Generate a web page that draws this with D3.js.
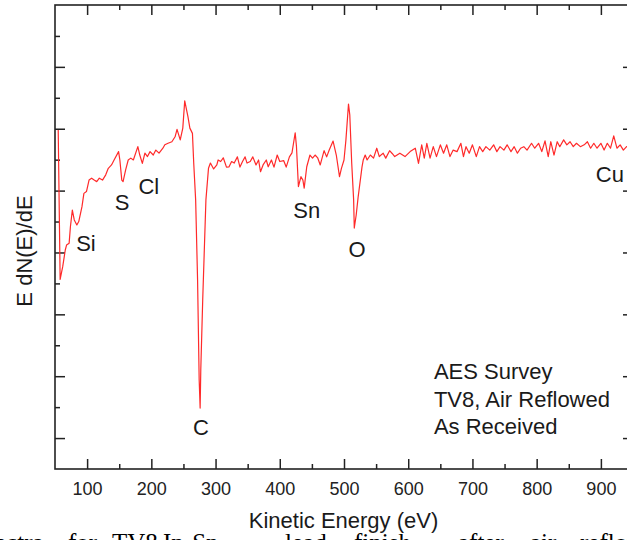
<!DOCTYPE html>
<html>
<head>
<meta charset="utf-8">
<script src="https://cdnjs.cloudflare.com/ajax/libs/d3/7.8.5/d3.min.js"></script>
<style>
  html, body { margin: 0; padding: 0; background: #fff; }
  svg { display: block; }
  .axis text { font-family: "Liberation Sans", Arial, sans-serif; font-size: 18px; fill: #222; }
  .axis line { stroke: #222; stroke-width: 1.5; }
  .axis path { display: none; }
</style>
</head>
<body>
<svg id="visualisation" width="627" height="540"></svg>
<script>

// AES survey (kinetic energy in eV, E dN(E)/dE in arbitrary units)
var energy = [55, 58, 62, 66, 68, 72, 74, 77, 80, 84, 87, 92, 95, 99, 103, 107, 111, 115, 119, 124,
  129, 133, 138, 142, 149, 151, 154, 156, 160, 164, 168, 172, 179, 182, 186, 190, 194, 198, 203, 207,
  212, 218, 221, 226, 232, 237, 240, 245, 249, 252, 257, 260, 264, 266, 269, 272, 274.5, 276, 277, 280,
  282, 285, 289, 292, 297, 302, 304, 308, 312, 317, 321, 325, 329, 334, 338, 342, 346, 349, 354, 358,
  363, 367, 370, 374, 379, 382, 387, 391, 396, 400, 406, 410, 415, 419, 424, 426, 429, 433, 436, 438,
  442, 447, 451, 455, 459, 463, 469, 473, 477, 483, 488, 493, 496, 500, 503, 507, 509, 512, 515, 516,
  519, 522, 528, 530, 533, 536, 541, 546, 551, 555, 561, 565, 571, 575, 579, 587, 595, 603, 611, 616,
  621, 625, 629, 634, 639, 644, 650, 655, 660, 665, 670, 676, 682, 686, 690, 695, 700, 706, 711, 716,
  721, 727, 733, 738, 743, 749, 754, 760, 765, 770, 775, 780, 785, 792, 797, 803, 808, 813, 818, 822,
  827, 832, 836, 842, 847, 852, 857, 862, 868, 874, 879, 884, 889, 894, 900, 905, 910, 915, 920, 925,
  930, 935, 940, 948];

var signal = [9.96, 5.13, 5.54, 6.08, 6.24, 6.30, 6.83, 7.37, 7.05, 6.89, 7.00, 7.48, 7.91, 7.97, 8.34, 8.40, 8.34, 8.29, 8.40, 8.34,
  8.51, 8.72, 8.83, 8.99, 9.26, 8.99, 8.34, 8.29, 8.67, 8.99, 9.05, 8.99, 9.42, 9.15, 8.88, 9.21, 9.10, 9.26, 9.15, 9.31,
  9.21, 9.37, 9.48, 9.53, 9.58, 9.74, 9.98, 9.64, 10.02, 10.90, 10.39, 10.02, 9.85, 8.89, 7.70, 5.11, 1.88, 0.97, 2.20, 4.46,
  5.76, 7.70, 8.72, 8.89, 8.70, 8.83, 8.99, 8.94, 9.06, 8.76, 8.77, 8.94, 8.89, 9.09, 8.76, 8.94, 9.09, 8.89, 8.94, 9.09,
  8.83, 8.99, 8.61, 8.83, 8.99, 8.77, 8.99, 8.76, 9.15, 8.94, 8.97, 8.76, 9.09, 9.22, 9.87, 9.42, 8.13, 8.45, 8.34, 8.08,
  8.77, 9.15, 9.05, 9.15, 9.06, 8.83, 9.29, 9.09, 9.31, 9.60, 9.15, 8.45, 8.72, 8.99, 9.64, 10.80, 10.45, 8.89, 7.70, 6.79,
  7.21, 7.79, 8.76, 8.99, 9.15, 8.99, 9.15, 9.05, 9.37, 9.10, 9.21, 9.05, 9.29, 9.20, 9.10, 9.21, 9.10, 9.26, 9.37, 8.88,
  9.48, 9.05, 9.53, 9.05, 9.42, 9.10, 9.48, 9.21, 9.48, 9.10, 9.31, 9.26, 9.53, 9.10, 9.42, 9.21, 9.48, 9.10, 9.42, 9.26,
  9.42, 9.31, 9.48, 9.26, 9.42, 9.31, 9.48, 9.26, 9.42, 9.21, 9.37, 9.42, 9.31, 9.53, 9.37, 9.53, 9.26, 9.61, 9.10, 9.58,
  9.15, 9.58, 9.42, 9.64, 9.48, 9.58, 9.42, 9.53, 9.42, 9.48, 9.58, 9.37, 9.53, 9.37, 9.53, 9.31, 9.53, 9.37, 9.77, 9.37,
  9.48, 9.31, 9.42, 9.40];

// tick labels on the energy axis
var xTickLabels = [100, 200, 300, 400, 500, 600, 700, 800, 900];
var xMinorTicks = [150, 250, 350, 450, 550, 650, 750, 850, 950];
var yMajorTicks = [0, 2, 4, 6, 8, 10, 12];
var yMinorTicks = [1, 3, 5, 7, 9, 11, 13];

// element labels, anchored at (energy, signal)
var peakNames = ["Si", "S", "Cl", "C", "Sn", "O", "Cu"];
var peakLabelE = [83, 143, 180, 265, 421, 507, 892];
var peakLabelV = [6.05, 7.37, 7.89, 0.10, 7.11, 5.86, 8.29];

var noteLines = ["AES Survey", "TV8, Air Reflowed", "As Received"];
var captionWords = ["ectra", "for", "TV8", "In-Sn", "lead", "finish", "after", "air", "reflow"];

function InitChart () {

  var vis = d3.select("#visualisation"),
      MARGINS = { top: 5, right: 633, bottom: 469, left: 55 },  // plot frame edges, frame runs past the window on the right
      sans = '"Liberation Sans", Arial, Helvetica, sans-serif',

      xScale = d3.scaleLinear().domain([50, 950]).range([MARGINS.left, MARGINS.right]),
      yScale = d3.scaleLinear().domain([-1, 14]).range([MARGINS.bottom, MARGINS.top]);

  // frame
  vis.append("rect")
      .attr("x", MARGINS.left)
      .attr("y", MARGINS.top)
      .attr("width", MARGINS.right - MARGINS.left)
      .attr("height", MARGINS.bottom - MARGINS.top)
      .attr("fill", "none")
      .attr("stroke", "#222")
      .attr("stroke-width", 1.6);

  // bottom axis, inward ticks
  vis.append("g")
      .attr("class", "axis")
      .attr("transform", "translate(0," + MARGINS.bottom + ")")
      .call(d3.axisBottom(xScale).tickValues(xTickLabels).tickSize(-10).tickSizeOuter(0).tickPadding(13));
  vis.append("g")
      .attr("class", "axis")
      .attr("transform", "translate(0," + MARGINS.bottom + ")")
      .call(d3.axisBottom(xScale).tickValues(xMinorTicks).tickSize(-5).tickSizeOuter(0).tickFormat(""));

  // top axis
  vis.append("g")
      .attr("class", "axis")
      .attr("transform", "translate(0," + MARGINS.top + ")")
      .call(d3.axisTop(xScale).tickValues(xTickLabels).tickSize(-10).tickSizeOuter(0).tickFormat(""));
  vis.append("g")
      .attr("class", "axis")
      .attr("transform", "translate(0," + MARGINS.top + ")")
      .call(d3.axisTop(xScale).tickValues(xMinorTicks).tickSize(-5).tickSizeOuter(0).tickFormat(""));

  // left and right axes, no labels
  vis.append("g")
      .attr("class", "axis")
      .attr("transform", "translate(" + MARGINS.left + ",0)")
      .call(d3.axisLeft(yScale).tickValues(yMajorTicks).tickSize(-10).tickSizeOuter(0).tickFormat(""));
  vis.append("g")
      .attr("class", "axis")
      .attr("transform", "translate(" + MARGINS.left + ",0)")
      .call(d3.axisLeft(yScale).tickValues(yMinorTicks).tickSize(-5).tickSizeOuter(0).tickFormat(""));
  vis.append("g")
      .attr("class", "axis")
      .attr("transform", "translate(" + MARGINS.right + ",0)")
      .call(d3.axisRight(yScale).tickValues(yMajorTicks).tickSize(-10).tickSizeOuter(0).tickFormat(""));
  vis.append("g")
      .attr("class", "axis")
      .attr("transform", "translate(" + MARGINS.right + ",0)")
      .call(d3.axisRight(yScale).tickValues(yMinorTicks).tickSize(-5).tickSizeOuter(0).tickFormat(""));

  // spectrum
  var points = energy.map(function (e, i) { return [e, signal[i]]; });
  var lineGen = d3.line()
      .x(function (d) { return xScale(d[0]); })
      .y(function (d) { return yScale(d[1]); });

  vis.append("path")
      .attr("d", lineGen(points))
      .attr("stroke", "#ff2a2a")
      .attr("stroke-width", 1.2)
      .attr("stroke-linejoin", "round")
      .attr("fill", "none");

  // element labels
  vis.selectAll(".peak")
      .data(peakNames)
      .enter().append("text")
      .attr("class", "peak")
      .attr("x", function (d, i) { return xScale(peakLabelE[i]); })
      .attr("y", function (d, i) { return yScale(peakLabelV[i]); })
      .attr("font-family", sans)
      .attr("font-size", 22)
      .attr("fill", "#1a1a1a")
      .text(function (d) { return d; });

  // sample note
  vis.selectAll(".note")
      .data(noteLines)
      .enter().append("text")
      .attr("class", "note")
      .attr("x", xScale(640))
      .attr("y", function (d, i) { return yScale(1.9) + i * 27.3; })
      .attr("font-family", sans)
      .attr("font-size", 22)
      .attr("fill", "#1a1a1a")
      .text(function (d) { return d; });

  // axis titles
  vis.append("text")
      .attr("x", 343.5)
      .attr("y", 528)
      .attr("text-anchor", "middle")
      .attr("font-family", sans)
      .attr("font-size", 22)
      .attr("fill", "#1a1a1a")
      .text("Kinetic Energy (eV)");

  vis.append("text")
      .attr("transform", "translate(31.5,251) rotate(-90)")
      .attr("text-anchor", "middle")
      .attr("font-family", sans)
      .attr("font-size", 22)
      .attr("fill", "#1a1a1a")
      .text("E dN(E)/dE");

  // figure caption, cut off by the page edge
  var captionX = [-5, 68, 112, 163, 285, 354, 458, 530, 580];
  vis.selectAll(".caption")
      .data(captionWords)
      .enter().append("text")
      .attr("class", "caption")
      .attr("x", function (d, i) { return captionX[i]; })
      .attr("y", 551)
      .attr("font-family", '"Liberation Serif", "Times New Roman", serif')
      .attr("font-size", 25)
      .attr("fill", "#000")
      .text(function (d) { return d; });
}

InitChart();
</script>
</body>
</html>
